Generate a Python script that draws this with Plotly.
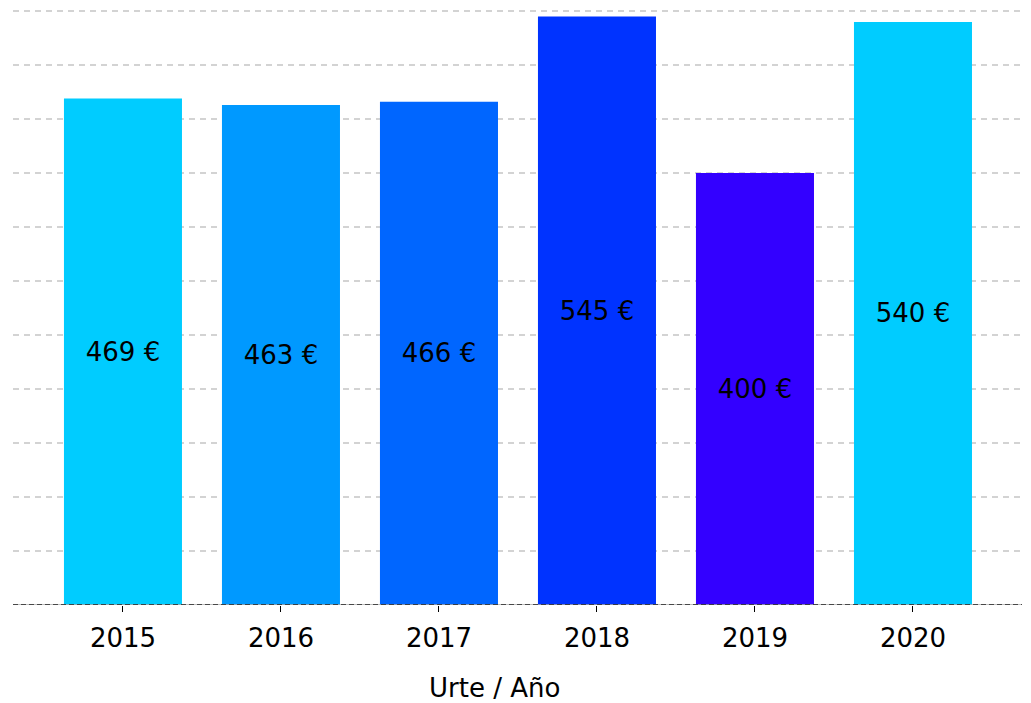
import plotly.graph_objects as go

years = ["2015", "2016", "2017", "2018", "2019", "2020"]
values = [469, 463, 466, 545, 400, 540]
labels = ["469 €", "463 €", "466 €", "545 €", "400 €", "540 €"]
colors = ["#00CCFF", "#0099FF", "#0066FF", "#0033FF", "#3300FF", "#00CCFF"]
x_title = "Urte / Año"

fig = go.Figure(go.Bar(
    x=years, y=values, text=labels,
    marker=dict(color=colors, line=dict(width=0)),
    textposition="inside", insidetextanchor="middle",
    textfont=dict(family="DejaVu Sans", size=26, color="black"),
    textangle=0, showlegend=False,
))

fig.update_layout(
    width=1031, height=703,
    margin=dict(l=5, r=17, t=1, b=106),
    plot_bgcolor="white", paper_bgcolor="white",
    bargap=0.253,
    font=dict(family="DejaVu Sans", size=26, color="black"),
    xaxis=dict(
        type="category", range=[-0.696, 5.69],
        ticks="outside", ticklen=6, tickcolor="black", tickwidth=1,
        ticklabelstandoff=4,
        tickfont=dict(size=26), showgrid=False, zeroline=False, showline=False,
    ),
    yaxis=dict(
        range=[0, 552], dtick=50, showticklabels=False, zeroline=False,
        showgrid=True, gridcolor="#d3d3d3", gridwidth=1.5, griddash="6px,5px",
        showline=False, ticks="",
    ),
    shapes=[
        dict(type="line", xref="paper", yref="y", x0=0, x1=1, y0=0, y1=0,
             line=dict(color="#aaaaaa", width=1.5), layer="above"),
        dict(type="line", xref="paper", yref="y", x0=0, x1=1, y0=0, y1=0,
             line=dict(color="#222222", width=1.5, dash="5px,3px"), layer="above"),
    ],
    annotations=[dict(text=x_title, xref="paper", yref="paper", x=0.4777, y=-0.139,
                      xanchor="center", yanchor="middle", showarrow=False,
                      font=dict(size=26, color="black"))],
)

fig.write_html("out.html")
